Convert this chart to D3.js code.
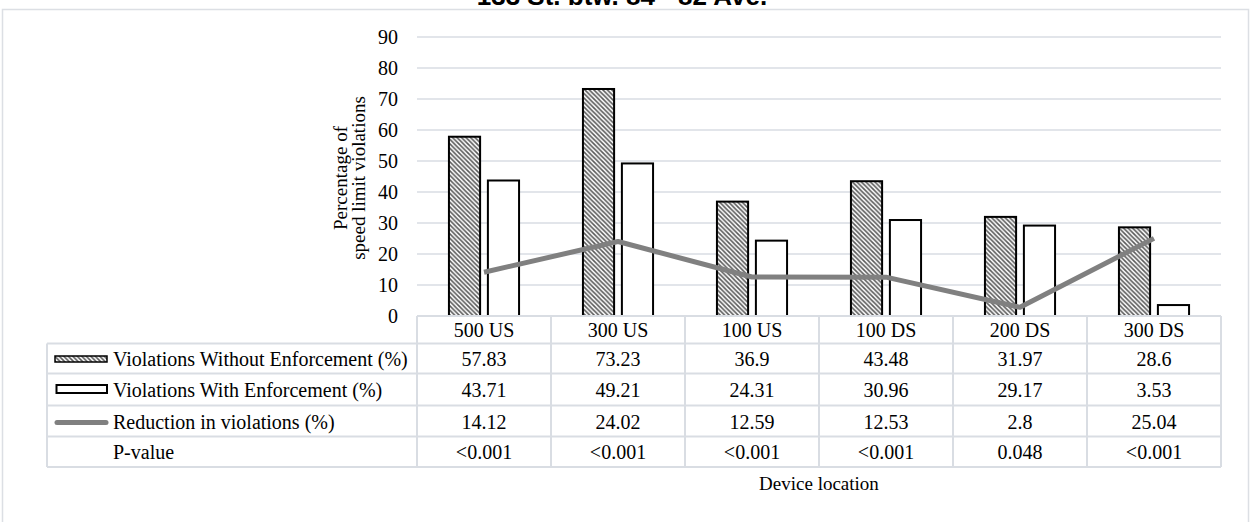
<!DOCTYPE html>
<html>
<head>
<meta charset="utf-8">
<script src="https://cdn.jsdelivr.net/npm/d3@7"></script>
<style>
  html, body { margin: 0; padding: 0; background: #ffffff; }
  svg { display: block; }
  text { font-family: "Liberation Serif", "Times New Roman", serif; fill: #000; }
</style>
</head>
<body>
<svg id="chart" width="1252" height="522"></svg>
<script>
// ---- data ----
const title = "133 St. btw. 84 - 82 Ave.";
const categories = ["500 US", "300 US", "100 US", "100 DS", "200 DS", "300 DS"];
const withoutEnforcement = [57.83, 73.23, 36.9, 43.48, 31.97, 28.6];
const withEnforcement = [43.71, 49.21, 24.31, 30.96, 29.17, 3.53];
const reduction = [14.12, 24.02, 12.59, 12.53, 2.8, 25.04];
const pValues = ["<0.001", "<0.001", "<0.001", "<0.001", "0.048", "<0.001"];
const seriesNames = [
  "Violations Without Enforcement (%)",
  "Violations With Enforcement (%)",
  "Reduction in violations (%)",
  "P-value"
];
const yTicks = [0, 10, 20, 30, 40, 50, 60, 70, 80, 90];
const yTitle = ["Percentage of", "speed limit violations"];
const xTitle = "Device location";

// ---- layout ----
const plotLeft = 417, plotRight = 1221, plotTop = 37, plotBottom = 316;
const tableLeft = 47;
const rowEdges = [316, 343.5, 373.5, 405.5, 436.5, 467];
const gridColor = "#d9dde3";

const svg = d3.select("#chart");

// pattern for the hatched bars
const defs = svg.append("defs");
const pat = defs.append("pattern")
  .attr("id", "hatch")
  .attr("patternUnits", "userSpaceOnUse")
  .attr("width", 4.5).attr("height", 4.5);
pat.append("rect").attr("width", 4.5).attr("height", 4.5).attr("fill", "#ffffff");
pat.append("path")
  .attr("d", "M-1,-1 L5.5,5.5 M-1,3.5 L1,5.5 M3.5,-1 L5.5,1")
  .attr("stroke", "#5a5a5a").attr("stroke-width", 1.6);

// outer frame
svg.append("rect")
  .attr("x", 2.5).attr("y", 9.5).attr("width", 1246).attr("height", 700)
  .attr("fill", "none").attr("stroke", "#dcdfe4").attr("stroke-width", 1.5);

// title (sits partly above the frame)
svg.append("text")
  .attr("x", 622).attr("y", 5)
  .attr("text-anchor", "middle")
  .style("font-family", "'Liberation Sans', Arial, sans-serif")
  .style("font-weight", "bold")
  .style("font-size", "26px")
  .text(title);

// ---- scales ----
const x = d3.scaleBand().domain(categories).range([plotLeft, plotRight]);
const xSub = d3.scaleBand().domain(["without", "with"])
  .range([0, x.bandwidth()]).paddingInner(0.2).paddingOuter(0.82);
const y = d3.scaleLinear().domain([0, 90]).range([plotBottom, plotTop]);

// gridlines
svg.append("g").selectAll("line")
  .data(yTicks.filter(d => d > 0))
  .join("line")
  .attr("x1", plotLeft).attr("x2", plotRight)
  .attr("y1", d => y(d)).attr("y2", d => y(d))
  .attr("stroke", gridColor).attr("stroke-width", 1.5);

// y axis labels
const yAxis = svg.append("g")
  .attr("transform", `translate(${plotLeft},0)`)
  .call(d3.axisLeft(y).tickValues(yTicks).tickSize(0).tickPadding(19));
yAxis.select(".domain").remove();
yAxis.selectAll("text")
  .style("font-family", "'Liberation Serif', 'Times New Roman', serif")
  .style("font-size", "20px").attr("fill", "#000");

// y axis title
const yt = svg.append("text")
  .attr("transform", "translate(347,178) rotate(-90)")
  .attr("text-anchor", "middle")
  .style("font-size", "19px");
yt.append("tspan").attr("x", 0).attr("y", 0).text(yTitle[0]);
yt.append("tspan").attr("x", 0).attr("y", 18).text(yTitle[1]);

// ---- bars ----
const bars = svg.append("g");
bars.selectAll("rect.without")
  .data(categories)
  .join("rect")
  .attr("class", "without")
  .attr("x", d => x(d) + xSub("without"))
  .attr("width", xSub.bandwidth())
  .attr("y", (d, i) => y(withoutEnforcement[i]))
  .attr("height", (d, i) => y(0) - y(withoutEnforcement[i]))
  .attr("fill", "url(#hatch)").attr("stroke", "#000").attr("stroke-width", 2);
bars.selectAll("rect.with")
  .data(categories)
  .join("rect")
  .attr("class", "with")
  .attr("x", d => x(d) + xSub("with"))
  .attr("width", xSub.bandwidth())
  .attr("y", (d, i) => y(withEnforcement[i]))
  .attr("height", (d, i) => y(0) - y(withEnforcement[i]))
  .attr("fill", "#ffffff").attr("stroke", "#000").attr("stroke-width", 2);

// reduction line
const line = d3.line()
  .x((d, i) => x(categories[i]) + x.bandwidth() / 2)
  .y(d => y(d));
svg.append("path")
  .datum(reduction)
  .attr("d", line)
  .attr("fill", "none").attr("stroke", "#808080")
  .attr("stroke-width", 5).attr("stroke-linejoin", "round");

// ---- data table ----
const table = svg.append("g");
const rowMid = i => (rowEdges[i] + rowEdges[i + 1]) / 2;
const tableStroke = { stroke: gridColor, width: 2 };

// horizontal rules
rowEdges.forEach((ry, i) => {
  table.append("line")
    .attr("x1", i === 0 ? plotLeft : tableLeft).attr("x2", plotRight)
    .attr("y1", ry).attr("y2", ry)
    .attr("stroke", tableStroke.stroke).attr("stroke-width", tableStroke.width);
});
// vertical rules
table.append("line")
  .attr("x1", tableLeft).attr("x2", tableLeft)
  .attr("y1", rowEdges[1]).attr("y2", rowEdges[5])
  .attr("stroke", tableStroke.stroke).attr("stroke-width", tableStroke.width);
categories.concat([null]).forEach((c, i) => {
  const vx = c === null ? plotRight : x(c);
  table.append("line")
    .attr("x1", vx).attr("x2", vx)
    .attr("y1", rowEdges[0]).attr("y2", rowEdges[5])
    .attr("stroke", tableStroke.stroke).attr("stroke-width", tableStroke.width);
});

// header: category names
table.selectAll("text.cat")
  .data(categories)
  .join("text")
  .attr("class", "cat")
  .attr("x", d => x(d) + x.bandwidth() / 2)
  .attr("y", rowMid(0) + 7)
  .attr("text-anchor", "middle")
  .style("font-size", "20px")
  .text(d => d);

// value rows
const rows = [withoutEnforcement, withEnforcement, reduction, pValues];
rows.forEach((vals, r) => {
  table.append("g").selectAll("text")
    .data(vals)
    .join("text")
    .attr("x", (d, i) => x(categories[i]) + x.bandwidth() / 2)
    .attr("y", rowMid(r + 1) + 7.5)
    .attr("text-anchor", "middle")
    .style("font-size", "20px")
    .text(d => d);
  table.append("text")
    .attr("x", 113)
    .attr("y", rowMid(r + 1) + 7.5)
    .style("font-size", "20px")
    .text(seriesNames[r]);
});

// legend keys inside the table
table.append("rect")
  .attr("x", 55).attr("y", 356).attr("width", 52).attr("height", 6)
  .attr("fill", "url(#hatch)").attr("stroke", "#000").attr("stroke-width", 1.5);
table.append("rect")
  .attr("x", 56.5).attr("y", 385).attr("width", 50.5).attr("height", 8)
  .attr("fill", "#fff").attr("stroke", "#000").attr("stroke-width", 2);
table.append("line")
  .attr("x1", 57).attr("x2", 106).attr("y1", 422.5).attr("y2", 422.5)
  .attr("stroke", "#808080").attr("stroke-width", 5).attr("stroke-linecap", "round");

// x axis title
svg.append("text")
  .attr("x", (plotLeft + plotRight) / 2)
  .attr("y", 490)
  .attr("text-anchor", "middle")
  .style("font-size", "19px")
  .text(xTitle);
</script>
</body>
</html>
